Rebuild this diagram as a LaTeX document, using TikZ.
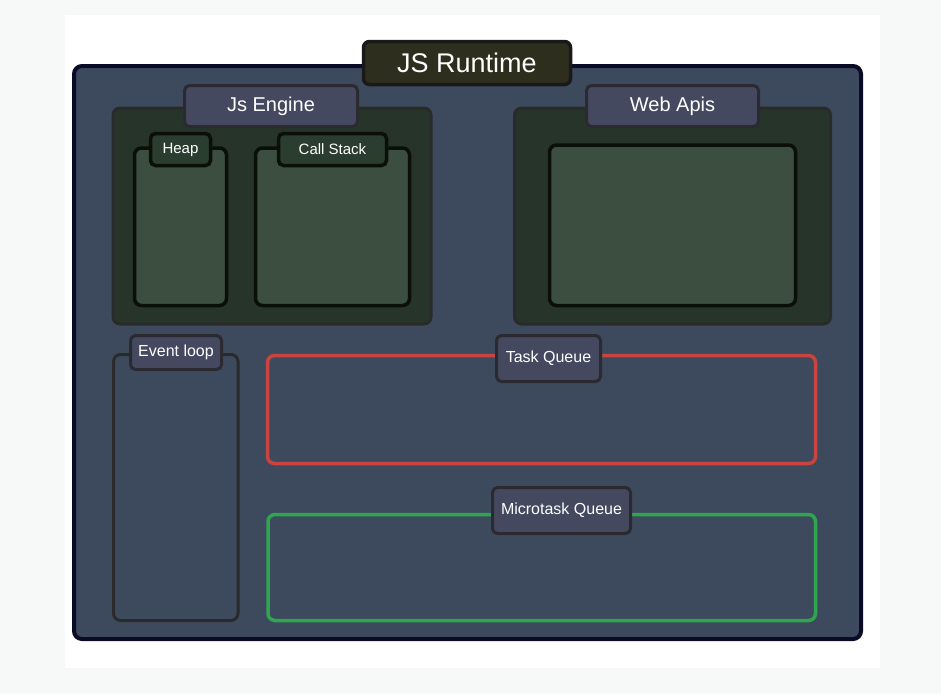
\documentclass[tikz,border=0pt]{standalone}
\usepackage{fontspec}
\setmainfont{Liberation Sans}
\definecolor{outerbg}{HTML}{F7F9F9}
\definecolor{mainfill}{HTML}{3D4A5E}
\definecolor{mainline}{HTML}{0B0B28}
\definecolor{olive}{HTML}{2E2E1E}
\definecolor{engfill}{HTML}{26342A}
\definecolor{engline}{HTML}{2A2A2A}
\definecolor{innerfill}{HTML}{3C4E40}
\definecolor{innerline}{HTML}{0A0F0A}
\definecolor{smalllab}{HTML}{2A3D2E}
\definecolor{labfill}{HTML}{444960}
\definecolor{labline}{HTML}{2A2A30}
\definecolor{taskred}{HTML}{C8443E}
\definecolor{microgreen}{HTML}{2FA54F}
\tikzset{
  mainbox/.style={draw=mainline, fill=mainfill, line width=4pt, rounded corners=8pt, inner sep=0pt},
  titlebox/.style={draw=black!90, fill=olive, line width=3.5pt, rounded corners=6pt, inner sep=0pt, text=white, font=\fontsize{27}{30}\selectfont},
  groupbox/.style={draw=engline, fill=engfill, line width=3pt, rounded corners=7pt, inner sep=0pt},
  innerbox/.style={draw=innerline, fill=innerfill, line width=3.5pt, rounded corners=7pt, inner sep=0pt},
  biglab/.style={draw=labline, fill=labfill, line width=3pt, rounded corners=5pt, inner sep=0pt, text=white, font=\fontsize{20}{24}\selectfont},
  smlab/.style={draw=innerline, fill=smalllab, line width=3.5pt, rounded corners=5pt, inner sep=0pt, text=white, font=\fontsize{15}{18}\selectfont},
  qlab/.style={draw=labline, fill=labfill, line width=3pt, rounded corners=5pt, inner sep=0pt, text=white, font=\fontsize{16}{19}\selectfont},
  loopbox/.style={draw=engline, line width=3pt, rounded corners=7pt, inner sep=0pt},
  queuebox/.style={line width=3.5pt, rounded corners=7pt, inner sep=0pt}
}
\begin{document}
\begin{tikzpicture}[x=1pt,y=-1pt]
\fill[outerbg] (0,0) rectangle (941,694);
\fill[white] (65,15) rectangle (880,668);
\useasboundingbox (0,0) rectangle (941,694);

\node[mainbox, minimum width=787pt, minimum height=573pt] (runtime) at (467.5,352.5) {};
\node[titlebox, minimum width=207pt, minimum height=43pt] (runtimelab) at (467,63) {JS Runtime};

% Js Engine
\node[groupbox, minimum width=318pt, minimum height=216pt] (engine) at (272,216) {};
\node[innerbox, minimum width=92pt, minimum height=157.5pt] (heap) at (180.5,226.75) {};
\node[innerbox, minimum width=154pt, minimum height=157.5pt] (stack) at (332.5,226.75) {};
\node[biglab, minimum width=173pt, minimum height=41pt] (enginelab) at (271,106) {Js Engine};
\node[smlab, minimum width=60pt, minimum height=32pt] (heaplab) at (180.5,149.5) {Heap};
\node[smlab, minimum width=108pt, minimum height=32pt] (stacklab) at (332.5,149.5) {Call Stack};

% Web Apis
\node[groupbox, minimum width=316pt, minimum height=216pt] (web) at (672.5,216) {};
\node[innerbox, minimum width=246pt, minimum height=160.5pt] (webinner) at (672.5,225.25) {};
\node[biglab, minimum width=172pt, minimum height=41pt] (weblab) at (672.5,106) {Web Apis};

% Event loop
\node[loopbox, minimum width=124.5pt, minimum height=266pt] (loop) at (175.75,487.5) {};
\node[qlab, minimum width=91pt, minimum height=34pt] (looplab) at (176,352.5) {Event loop};

% Queues
\node[queuebox, draw=taskred, minimum width=548pt, minimum height=108pt] (task) at (541.5,409.5) {};
\node[qlab, minimum width=104pt, minimum height=46pt] (tasklab) at (548.5,358.5) {Task Queue};
\node[queuebox, draw=microgreen, minimum width=547.5pt, minimum height=106pt] (micro) at (541.75,567.5) {};
\node[qlab, minimum width=138pt, minimum height=46pt] (microlab) at (561.5,510.5) {Microtask Queue};
\end{tikzpicture}
\end{document}
